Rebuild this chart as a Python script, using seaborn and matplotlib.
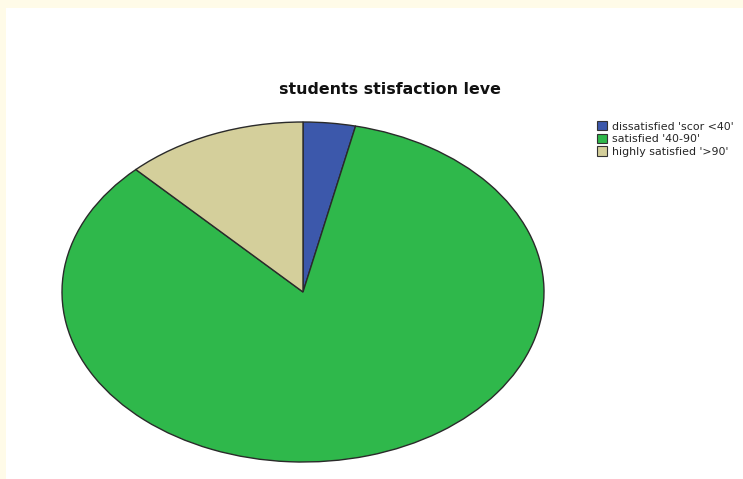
import matplotlib
matplotlib.use("Agg")
import matplotlib.pyplot as plt
import seaborn as sns
from matplotlib.patches import Patch

categories = ["dissatisfied 'scor <40'", "satisfied '40-90'", "highly satisfied '>90'"]
values = [3.5, 84.3, 12.2]
colors = ["#3c58ab", "#2fb84b", "#d4cf9b"]
title = "students stisfaction leve"

sns.set_theme(style="white")
plt.rcParams["font.family"] = ["DejaVu Sans"]

W, H = 743, 479
fig = plt.figure(figsize=(W / 100, H / 100), dpi=100, facecolor="#fffbe8")

# white panel
bg = fig.add_axes([6 / W, 0, 1 - 6 / W, 1 - 8 / H])
bg.set_facecolor("white")
bg.set_xticks([]); bg.set_yticks([])
for s in bg.spines.values():
    s.set_visible(False)

# pie axes placed to give the elliptical pie
cx, cy, rx, ry = 303, 292, 241, 170
ax = fig.add_axes([(cx - rx) / W, 1 - (cy + ry) / H, 2 * rx / W, 2 * ry / H])
ax.pie(values, colors=colors, startangle=90, counterclock=False,
       wedgeprops=dict(edgecolor="#2a2a2a", linewidth=1.0), radius=1)
ax.set_aspect("auto")
ax.set_xlim(-1, 1); ax.set_ylim(-1, 1)
ax.axis("off")

fig.text(390 / W, 1 - 89 / H, title, ha="center", va="center",
         fontsize=11.4, fontweight="bold", color="#111111")

handles = [Patch(facecolor=c, edgecolor="#333333", linewidth=0.8) for c in colors]
fig.legend(handles, categories, loc="upper left", bbox_to_anchor=(597 / W, 1 - 121 / H),
           frameon=False, fontsize=7.9, handlelength=0.95, handleheight=0.95,
           handletextpad=0.45, labelspacing=0.2, borderpad=0, borderaxespad=0)

fig.savefig("out.png", dpi=100, facecolor=fig.get_facecolor())
